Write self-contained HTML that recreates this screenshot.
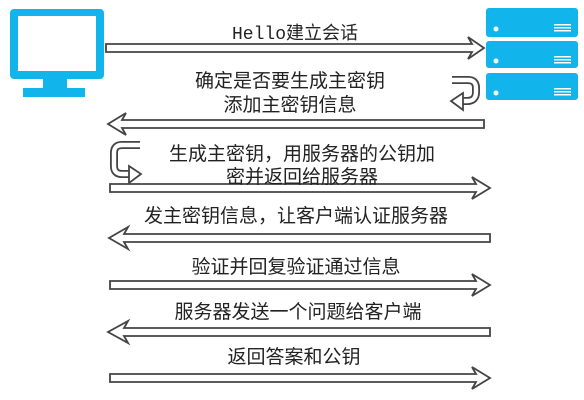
<!DOCTYPE html>
<html><head><meta charset="utf-8"><style>
html,body{margin:0;padding:0;background:#fff;}
svg{display:block}
text{font-family:"Liberation Sans","Noto Sans CJK SC",sans-serif;font-size:19px;fill:#222;text-anchor:middle}
</style></head><body>
<svg width="584" height="400" viewBox="0 0 584 400" xmlns="http://www.w3.org/2000/svg">
<rect x="10" y="9" width="94" height="70" rx="4" fill="#12b4ec"/>
<rect x="18" y="16" width="78" height="55" fill="#fff"/>
<rect x="43" y="78" width="24" height="11" fill="#12b4ec"/>
<rect x="23" y="88" width="62" height="9" fill="#12b4ec"/>
<g fill="#12b4ec">
<rect x="486" y="8" width="92" height="29" rx="3"/>
<rect x="486" y="41" width="92" height="27" rx="3"/>
<rect x="486" y="73" width="92" height="27" rx="3"/>
</g>
<g fill="#fff">
<circle cx="496" cy="29" r="2.5"/><circle cx="496" cy="61" r="2.5"/><circle cx="496" cy="93" r="2.5"/>
<rect x="554" y="24" width="17" height="1.5"/><rect x="554" y="27" width="17" height="1.5"/><rect x="554" y="30" width="17" height="1.5"/>
<rect x="554" y="56" width="17" height="1.5"/><rect x="554" y="59" width="17" height="1.5"/><rect x="554" y="62" width="17" height="1.5"/>
<rect x="554" y="88" width="17" height="1.5"/><rect x="554" y="91" width="17" height="1.5"/><rect x="554" y="94" width="17" height="1.5"/>
</g>
<g fill="#fff" stroke="#444" stroke-width="1.8" stroke-linejoin="miter">
<polygon points="106,52 472,52 468,59 484,48 468,37 472,44 106,44"/>
<polygon points="484,120 122,120 126,113 108,124 126,135 122,128 484,128"/>
<polygon points="110,184 476,184 472,177 490,188 472,199 476,192 110,192"/>
<polygon points="490,234 124,234 128,227 109,238 128,249 124,242 490,242"/>
<polygon points="110,281 476,281 472,274 490,285 472,296 476,289 110,289"/>
<polygon points="490,328 124,328 128,321 108,332 128,343 124,336 490,336"/>
<polygon points="110,374 476,374 472,367 490,378 472,389 476,382 110,382"/>
</g>
<path d="M452,80 H468 Q476,80 476,88 V92 Q476,101 467,101 H462" fill="none" stroke="#444" stroke-width="8"/>
<path d="M452,80 H468 Q476,80 476,88 V92 Q476,101 467,101 H462" fill="none" stroke="#fff" stroke-width="4.4"/>
<polygon points="463,93 451,101 463,110" fill="#fff" stroke="#444" stroke-width="1.8"/>
<path d="M140,145 H122 Q114,145 114,153 V166 Q114,174 122,174 H130" fill="none" stroke="#444" stroke-width="8"/>
<path d="M140,145 H122 Q114,145 114,153 V166 Q114,174 122,174 H130" fill="none" stroke="#fff" stroke-width="4.4"/>
<polygon points="129,166 141,174 129,183" fill="#fff" stroke="#444" stroke-width="1.8"/>
<text x="295" y="39" style="font-family:'Liberation Mono','Noto Sans CJK SC',monospace;font-size:18px">Hello建立会话</text>
<text x="290" y="87">确定是否要生成主密钥</text>
<text x="290" y="111">添加主密钥信息</text>
<text x="302" y="160">生成主密钥，用服务器的公钥加</text>
<text x="302" y="183">密并返回给服务器</text>
<text x="296" y="222">发主密钥信息，让客户端认证服务器</text>
<text x="296" y="273">验证并回复验证通过信息</text>
<text x="298" y="318">服务器发送一个问题给客户端</text>
<text x="294" y="363">返回答案和公钥</text>
</svg>
</body></html>
